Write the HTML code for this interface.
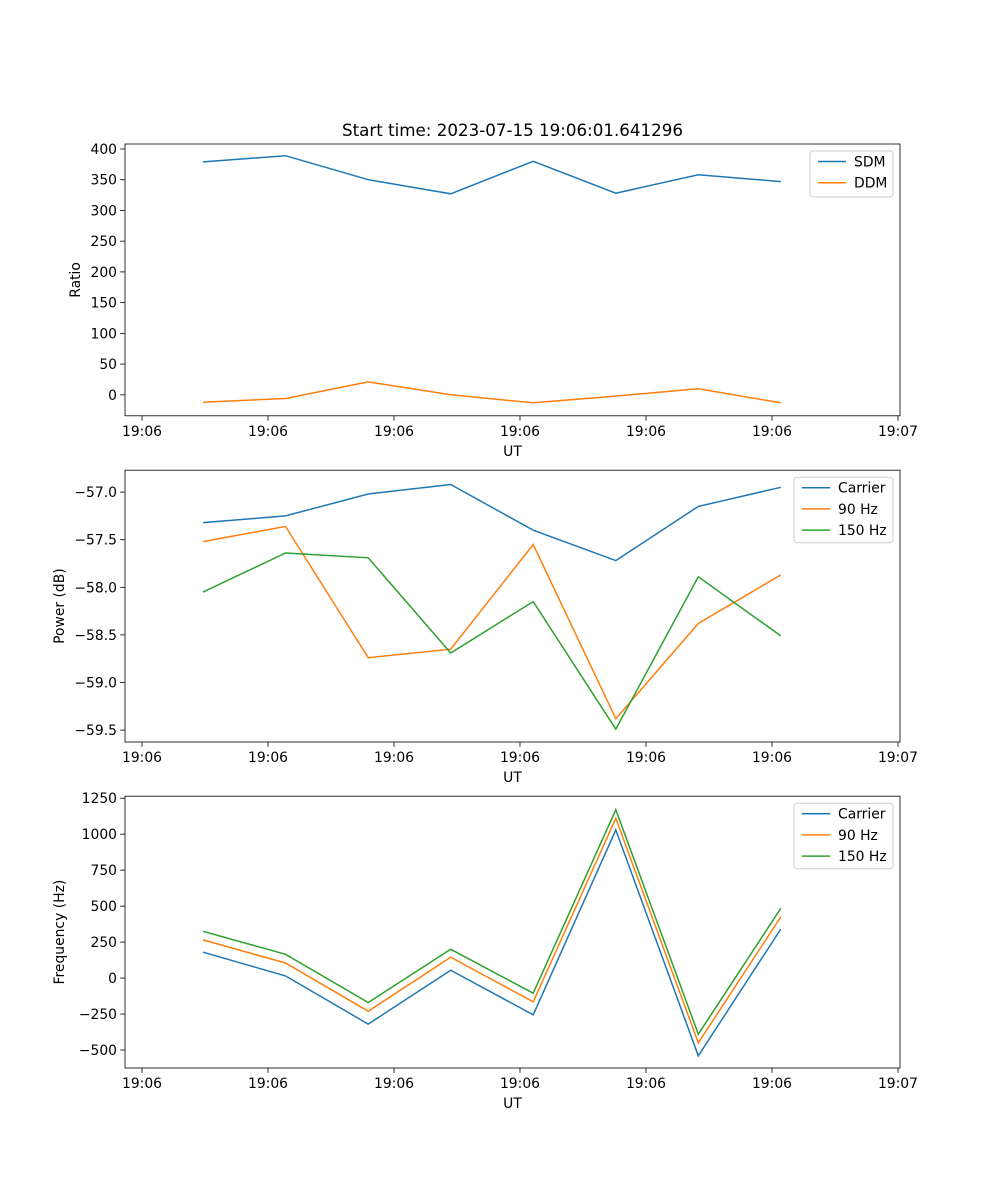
<!DOCTYPE html>
<html><head><meta charset="utf-8"><style>
body{margin:0;background:#fff;}
svg{display:block;font-family:"DejaVu Sans","Liberation Sans",sans-serif;}
</style></head><body>
<svg id="fig" width="1000" height="1200" viewBox="0 0 1000 1200"></svg>
<script>
// Shared x data: seconds after 19:06:00
const times = [4.84, 11.39, 17.95, 24.5, 31.05, 37.6, 44.15, 50.7];
const xTickVals = [0, 10, 20, 30, 40, 50, 60];
const xTickLabels = ["19:06","19:06","19:06","19:06","19:06","19:06","19:07"];
// Panel 1
const sdm = [379, 389, 350, 327, 380, 328, 358, 347];
const ddm = [-12, -6, 21, 0, -13, -2, 10, -13];
const ratioTicks = [0, 50, 100, 150, 200, 250, 300, 350, 400];
// Panel 2
const powCarrier = [-57.32, -57.25, -57.02, -56.92, -57.40, -57.72, -57.15, -56.95];
const pow90 = [-57.52, -57.36, -58.74, -58.65, -57.55, -59.38, -58.38, -57.87];
const pow150 = [-58.05, -57.64, -57.69, -58.69, -58.15, -59.49, -57.89, -58.51];
const powTicks = [-57.0, -57.5, -58.0, -58.5, -59.0, -59.5];
// Panel 3
const freqCarrier = [180, 15, -320, 55, -255, 1030, -540, 340];
const freq90 = [265, 105, -230, 145, -165, 1110, -450, 425];
const freq150 = [325, 165, -170, 200, -105, 1170, -390, 485];
const freqTicks = [-500, -250, 0, 250, 500, 750, 1000, 1250];

const NS = "http://www.w3.org/2000/svg";
const svg = document.getElementById("fig");
function mk(tag, attrs, parent, text){
  const e = document.createElementNS(NS, tag);
  for (const k in attrs) e.setAttribute(k, attrs[k]);
  if (text !== undefined) e.textContent = text;
  (parent || svg).appendChild(e);
  return e;
}
const L = 125, R = 900;
const xmin = -1.35, xmax = 60.16;
const xs = t => L + (t - xmin) / (xmax - xmin) * (R - L);
const C = ["#1f77b4", "#ff7f0e", "#2ca02c"];

function panel(name, top, bot, ymin, ymax, yticks, fmt, series, labels, ylabel, ylabX, legend){
  const g = mk("g", {});
  
  
  const ys = v => bot - (v - ymin) / (ymax - ymin) * (bot - top);
  series.forEach((s, i) => {
    const p = mk("polyline", {points: s.map((v, j) => xs(times[j]).toFixed(1) + "," + ys(v).toFixed(1)).join(" "), fill: "none", stroke: C[i], "stroke-width": 1.5}, g);
    
    
  });
  const fr = mk("rect", {x: L, y: top, width: R - L, height: bot - top, fill: "none", stroke: "#000", "stroke-width": 0.8}, g);
  
  
  xTickVals.forEach((t, i) => {
    const x = xs(t);
    mk("line", {x1: x, x2: x, y1: bot, y2: bot + 4.9, stroke: "#000", "stroke-width": 0.8}, g);
    const tl = mk("text", {x: x, y: bot + 20, "font-size": 13.9, "text-anchor": "middle"}, g, xTickLabels[i]);
    
    
  });
  yticks.forEach(v => {
    const y = ys(v);
    mk("line", {x1: L - 4.9, x2: L, y1: y, y2: y, stroke: "#000", "stroke-width": 0.8}, g);
    const tl = mk("text", {x: L - 8, y: y + 5, "font-size": 13.9, "text-anchor": "end"}, g, fmt(v).replace("-", "\u2212"));
    
    
  });
  const xl = mk("text", {x: (L + R) / 2, y: bot + 40, "font-size": 13.9, "text-anchor": "middle"}, g, "UT");
  
  
  const yc = (top + bot) / 2;
  const yl = mk("text", {x: ylabX, y: yc, "font-size": 13.9, "text-anchor": "middle", transform: `rotate(-90 ${ylabX} ${yc})`}, g, ylabel);
  
  
  const lg = mk("g", {}, g);
  
  
  const h = 7 + labels.length * 19.5;
  mk("rect", {x: legend[0], y: top + 7, width: legend[1], height: h, rx: 3, fill: "#fff", "fill-opacity": 0.8, stroke: "#ccc", "stroke-width": 1}, lg);
  labels.forEach((lab, i) => {
    const y = top + 17.5 + i * 21.2;
    mk("line", {x1: legend[0] + 8, x2: legend[0] + 36, y1: y, y2: y, stroke: C[i], "stroke-width": 1.5}, lg);
    const t = mk("text", {x: legend[0] + 44, y: y + 5, "font-size": 13.9}, lg, lab);
    
    
  });
}

const title = mk("text", {x: 512.5, y: 136, "font-size": 16.7, "text-anchor": "middle"}, svg, "Start time: 2023-07-15 19:06:01.641296");



panel("ratio-panel", 144, 415.8, -34.1, 408.1, ratioTicks, v => String(v), [sdm, ddm], ["SDM", "DDM"], "Ratio", 80, [810, 83]);
panel("power-panel", 470.2, 742, -59.625, -56.77, powTicks, v => v.toFixed(1), [powCarrier, pow90, pow150], ["Carrier", "90 Hz", "150 Hz"], "Power (dB)", 64, [794, 99]);
panel("frequency-panel", 796.2, 1068, -625, 1263.9, freqTicks, v => String(v), [freqCarrier, freq90, freq150], ["Carrier", "90 Hz", "150 Hz"], "Frequency (Hz)", 64, [794, 99]);
</script>
</body></html>
